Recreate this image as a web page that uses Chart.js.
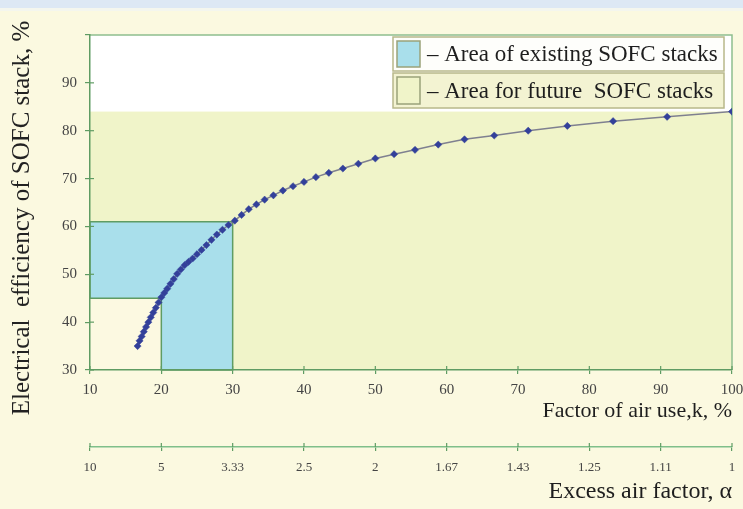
<!DOCTYPE html>
<html>
<head>
<meta charset="utf-8">
<script src="https://cdn.jsdelivr.net/npm/chart.js@4"></script>
<style>
  html, body { margin: 0; padding: 0; background: #fbf9e0; }
  #wrap { width: 743px; height: 509px; }
</style>
</head>
<body>
<div id="wrap"><canvas id="chart" width="743" height="509"></canvas></div>
<script>
// Factor of air use k, % (one point per 0.1 step of the excess air factor)
const airUse = [16.67, 16.95, 17.24, 17.54, 17.86, 18.18, 18.52, 18.87, 19.23, 19.61,
  20.0, 20.41, 20.83, 21.28, 21.74, 22.22, 22.73, 23.26, 23.81, 24.39,
  25.0, 25.64, 26.32, 27.03, 27.78, 28.57, 29.41, 30.3,
  31.25, 32.26, 33.33, 34.48, 35.71, 37.04, 38.46, 40.0,
  41.67, 43.48, 45.45, 47.62, 50.0, 52.63, 55.56, 58.82, 62.5, 66.67, 71.43, 76.92, 83.33, 90.91, 100];
// Electrical efficiency of the SOFC stack, %
const efficiency = [35.0, 36.1, 37.0, 38.0, 39.0, 40.0, 41.0, 42.0, 43.0, 44.1,
  45.2, 46.1, 47.0, 48.0, 49.0, 50.1, 51.0, 51.9, 52.6, 53.3,
  54.2, 55.1, 56.1, 57.2, 58.3, 59.3, 60.3, 61.2,
  62.4, 63.6, 64.6, 65.6, 66.5, 67.5, 68.4, 69.3,
  70.3, 71.2, 72.1, 73.1, 74.2, 75.1, 76.0, 77.1, 78.2, 79.0, 80.0, 81.0, 82.0, 82.9, 84.0];

// Tick positions on the k axis and the excess air factor shown under each
const airUseTicks = [10, 20, 30, 40, 50, 60, 70, 80, 90, 100];
const alphaLabels = ['10', '5', '3.33', '2.5', '2', '1.67', '1.43', '1.25', '1.11', '1'];

// Regions of the plane (k range, efficiency range)
const futureK = [10, 100];
const futureEff = [30, 84];
const existingK = [10, 20, 30];      // left edge, step, right edge
const existingEff = [30, 45, 61];    // bottom, step, top
const legendLabels = ['\u2013 Area of existing SOFC stacks', '\u2013 Area for future  SOFC stacks'];

const GREEN = '#5f9c63';
const SERIF = '"Liberation Serif", "DejaVu Serif", serif';

const backdrop = {
  id: 'backdrop',
  beforeDraw(chart) {
    const { ctx, chartArea: a, scales } = chart;
    const X = v => scales.x.getPixelForValue(v);
    const Y = v => scales.y.getPixelForValue(v);
    ctx.save();
    // page panel
    ctx.fillStyle = '#fbf9e0';
    ctx.fillRect(0, 0, chart.width, chart.height);
    ctx.fillStyle = '#dde8f4';
    ctx.fillRect(0, 0, chart.width, 8);
    ctx.fillStyle = '#f4f6ee';
    ctx.fillRect(0, 8, chart.width, 3);
    // plot area
    ctx.fillStyle = '#ffffff';
    ctx.fillRect(a.left, a.top, a.right - a.left, a.bottom - a.top);
    // future area
    ctx.fillStyle = '#f0f4c9';
    ctx.fillRect(X(futureK[0]), Y(futureEff[1]), X(futureK[1]) - X(futureK[0]), Y(futureEff[0]) - Y(futureEff[1]));
    // cream corner below the existing area
    ctx.fillStyle = '#fcf9e1';
    ctx.fillRect(X(existingK[0]), Y(existingEff[1]), X(existingK[1]) - X(existingK[0]), Y(existingEff[0]) - Y(existingEff[1]));
    // existing area (L shape)
    ctx.beginPath();
    ctx.moveTo(X(existingK[0]), Y(existingEff[2]));
    ctx.lineTo(X(existingK[2]), Y(existingEff[2]));
    ctx.lineTo(X(existingK[2]), Y(existingEff[0]));
    ctx.lineTo(X(existingK[1]), Y(existingEff[0]));
    ctx.lineTo(X(existingK[1]), Y(existingEff[1]));
    ctx.lineTo(X(existingK[0]), Y(existingEff[1]));
    ctx.closePath();
    ctx.fillStyle = '#a9dfeb';
    ctx.fill();
    ctx.strokeStyle = GREEN;
    ctx.lineWidth = 1.5;
    ctx.stroke();
    // plot frame (top and right)
    ctx.beginPath();
    ctx.moveTo(a.left, a.top);
    ctx.lineTo(a.right, a.top);
    ctx.lineTo(a.right, a.bottom);
    ctx.strokeStyle = '#8fbf8f';
    ctx.lineWidth = 1.5;
    ctx.stroke();
    ctx.restore();
  },
  afterDraw(chart) {
    const { ctx, chartArea: a, scales } = chart;
    ctx.save();
    // small inward tick marks crossing the axes
    ctx.strokeStyle = GREEN;
    ctx.lineWidth = 1.2;
    scales.y.ticks.forEach(t => {
      if (t.value === 100) return;
      const py = scales.y.getPixelForValue(t.value);
      ctx.beginPath(); ctx.moveTo(a.left, py); ctx.lineTo(a.left + 4, py); ctx.stroke();
    });
    airUseTicks.forEach(v => {
      const px = scales.x.getPixelForValue(v);
      ctx.beginPath(); ctx.moveTo(px, a.bottom); ctx.lineTo(px, a.bottom - 4); ctx.stroke();
      const top2 = scales.alpha.top;
      ctx.beginPath(); ctx.moveTo(px, top2); ctx.lineTo(px, top2 - 4); ctx.stroke();
    });

    // y axis title
    ctx.fillStyle = '#222';
    ctx.font = '25px ' + SERIF;
    ctx.textAlign = 'center';
    ctx.textBaseline = 'middle';
    ctx.translate(22, 218);
    ctx.rotate(-Math.PI / 2);
    ctx.fillText('Electrical  efficiency of SOFC stack, %', 0, 0);
    ctx.setTransform(1, 0, 0, 1, 0, 0);

    // legend
    const lx = 393, lw = 331;
    const rows = [{ y: 37, h: 34, bg: '#fefefb', sw: '#a9dfeb' }, { y: 73, h: 35, bg: '#f3f3d2', sw: '#f0f4c9' }];
    rows.forEach((r, i) => {
      ctx.fillStyle = r.bg;
      ctx.fillRect(lx, r.y, lw, r.h);
      ctx.strokeStyle = '#b8b88a';
      ctx.lineWidth = 1.5;
      ctx.strokeRect(lx, r.y, lw, r.h);
      ctx.fillStyle = r.sw;
      ctx.fillRect(lx + 4, r.y + 4, 23, r.h - 8);
      ctx.strokeStyle = '#9aa27a';
      ctx.strokeRect(lx + 4, r.y + 4, 23, r.h - 8);
      ctx.fillStyle = '#1e1e1e';
      ctx.font = '23px ' + SERIF;
      ctx.textAlign = 'left';
      ctx.textBaseline = 'middle';
      ctx.fillText(legendLabels[i], lx + 34, r.y + r.h / 2 + 1);
    });
    ctx.restore();
  }
};

// keep the plot edges on the axis range even where end labels overhang
const noOverhang = s => { s.paddingLeft = 0; s.paddingRight = 0; };

new Chart(document.getElementById('chart'), {
  type: 'scatter',
  data: {
    datasets: [{
      data: airUse.map((k, i) => ({ x: k, y: efficiency[i] })),
      showLine: true,
      borderColor: '#7f8090',
      borderWidth: 1.5,
      pointStyle: 'rectRot',
      pointRadius: 3.6,
      pointBackgroundColor: '#33409a',
      pointBorderColor: '#33409a',
      pointBorderWidth: 0.5,
      tension: 0
    }]
  },
  options: {
    responsive: false,
    animation: false,
    devicePixelRatio: 1,
    layout: { padding: { top: 35, right: 11, left: 0, bottom: 0 } },
    plugins: { legend: { display: false }, tooltip: { enabled: false } },
    scales: {
      x: {
        type: 'linear', position: 'bottom', min: 10, max: 100,
        afterBuildTicks: s => { s.ticks = airUseTicks.map(v => ({ value: v })); },
        afterFit: s => { s.height = 77; noOverhang(s); },
        border: { color: GREEN, width: 1.5 },
        grid: { drawOnChartArea: false, color: GREEN, tickLength: 4, lineWidth: 1.2 },
        ticks: { color: '#444', font: { family: SERIF, size: 15 }, padding: 7, maxRotation: 0 },
        title: {
          display: true, text: 'Factor of air use,k, %', align: 'end', color: '#1e1e1e',
          font: { family: SERIF, size: 22 }, padding: { top: 0, bottom: 23 }
        }
      },
      alpha: {
        type: 'linear', position: 'bottom', min: 10, max: 100,
        afterBuildTicks: s => { s.ticks = airUseTicks.map(v => ({ value: v })); },
        afterFit: s => { s.height = 62; noOverhang(s); },
        border: { color: '#7fbf8a', width: 1.5 },
        grid: { drawOnChartArea: false, color: GREEN, tickLength: 4, lineWidth: 1.2 },
        ticks: {
          color: '#444', font: { family: SERIF, size: 13 }, padding: 9, maxRotation: 0,
          callback: (v) => alphaLabels[airUseTicks.indexOf(v)]
        },
        title: {
          display: true, text: 'Excess air factor, \u03b1', align: 'end', color: '#1e1e1e',
          font: { family: SERIF, size: 24 }, padding: { top: 0, bottom: 3 }
        }
      },
      y: {
        type: 'linear', position: 'left', min: 30, max: 100,
        afterFit: s => { s.width = 90; },
        border: { color: GREEN, width: 1.5 },
        grid: { drawOnChartArea: false, color: GREEN, tickLength: 5, lineWidth: 1.2 },
        ticks: {
          stepSize: 10, color: '#444', font: { family: SERIF, size: 15 }, padding: 8,
          callback: v => (v === 100 ? '' : v)
        }
      }
    }
  },
  plugins: [backdrop]
});
</script>
</body>
</html>
